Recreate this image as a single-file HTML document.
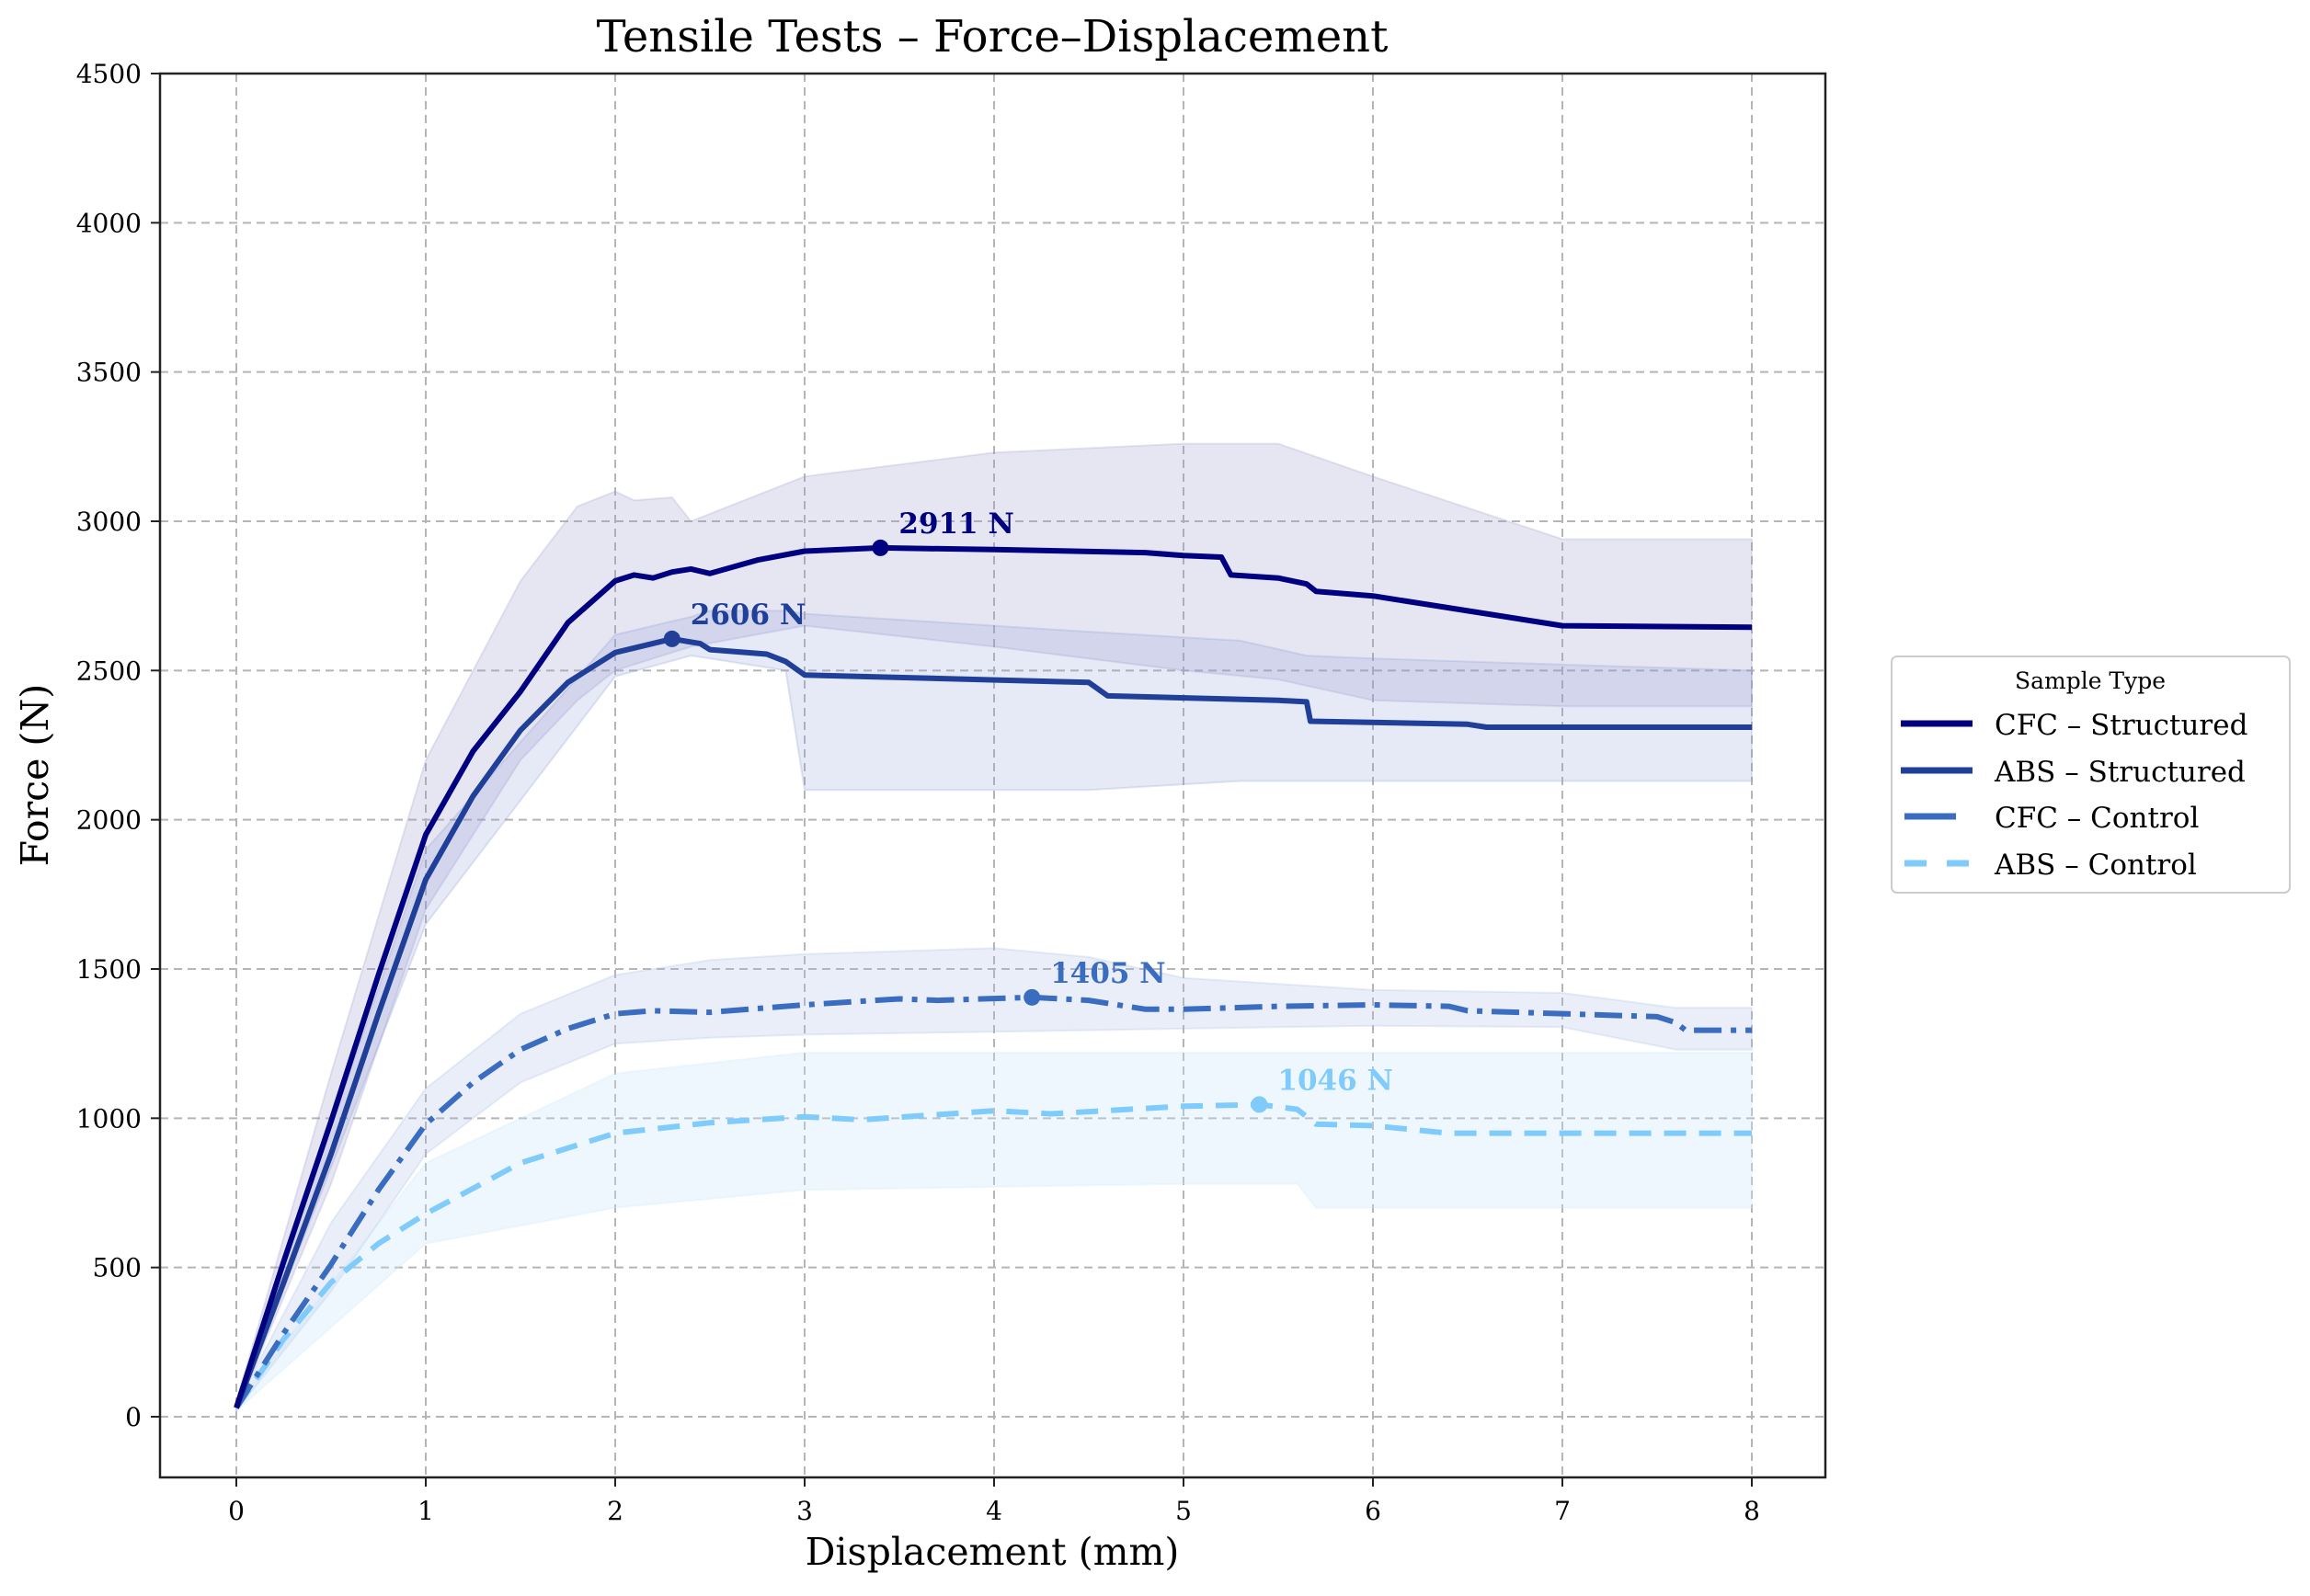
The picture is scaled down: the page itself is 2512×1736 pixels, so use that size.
<!DOCTYPE html>
<html><head><meta charset="utf-8"><style>
html,body{margin:0;padding:0;background:#fff;}
svg{display:block;font-family:"DejaVu Serif","Liberation Serif",serif;}
</style></head><body>
<svg id="chart" width="2512" height="1736" viewBox="0 0 2512 1736" xmlns="http://www.w3.org/2000/svg">
<text x="1079" y="56" text-anchor="middle" font-size="48">Tensile Tests – Force–Displacement</text>
<g id="grid"></g>
<g id="bands"></g>
<g id="lines"></g>
<g id="annots"></g>
<rect x="174" y="80" width="1811" height="1527" fill="none" stroke="#222" stroke-width="2.5"/>
<g id="axes"></g>
<text x="1079" y="1702" text-anchor="middle" font-size="41">Displacement (mm)</text>
<text transform="translate(52,843) rotate(-90)" text-anchor="middle" font-size="41">Force (N)</text>
<g>
<rect x="2057" y="714" width="433" height="257" rx="6" fill="#fff" stroke="#ccc" stroke-width="2"/>
<text x="2273" y="749" text-anchor="middle" font-size="25">Sample Type</text>
<g><line x1="2067" y1="787" x2="2145" y2="787" stroke="#000080" stroke-width="7"/><text x="2169" y="799" font-size="31">CFC – Structured</text></g>
<g><line x1="2067" y1="838" x2="2145" y2="838" stroke="#1f3f99" stroke-width="7"/><text x="2169" y="850" font-size="31">ABS – Structured</text></g>
<g><line x1="2071" y1="888" x2="2127" y2="888" stroke="#3a6cc0" stroke-width="7"/><text x="2169" y="900" font-size="31">CFC – Control</text></g>
<g><line x1="2071" y1="939" x2="2141" y2="939" stroke="#7fcbfb" stroke-width="7" stroke-dasharray="24,22"/><text x="2169" y="951" font-size="31">ABS – Control</text></g>
</g>
</svg>
<script>
const xTicks=[0,1,2,3,4,5,6,7,8];
const yTicks=[0,500,1000,1500,2000,2500,3000,3500,4000,4500];
const cfcS_x=[0,0.25,0.5,0.75,1,1.25,1.5,1.75,2,2.1,2.2,2.3,2.4,2.5,2.75,3,3.4,4,4.8,5,5.2,5.25,5.5,5.65,5.7,6,6.5,7,8];
const cfcS_y=[30,520,990,1480,1950,2230,2430,2660,2800,2820,2810,2830,2840,2825,2870,2900,2911,2905,2895,2885,2880,2820,2810,2790,2765,2750,2700,2650,2645];
const absS_x=[0,0.25,0.5,0.75,1,1.25,1.5,1.75,2,2.3,2.45,2.5,2.8,2.9,3,4.5,4.6,5.5,5.65,5.67,6.5,6.6,8];
const absS_y=[30,450,880,1350,1800,2080,2300,2460,2560,2606,2590,2570,2555,2530,2485,2460,2415,2400,2395,2330,2320,2310,2310];
const cfcC_x=[0,0.25,0.5,0.75,1,1.25,1.5,1.75,2,2.2,2.5,3,3.5,3.7,4.2,4.5,4.8,5,5.5,6,6.4,6.5,7.5,7.6,7.65,8];
const cfcC_y=[30,280,510,760,980,1120,1230,1300,1350,1360,1355,1380,1400,1395,1405,1395,1365,1365,1375,1380,1375,1360,1340,1320,1295,1295];
const absC_x=[0,0.25,0.5,0.75,1,1.5,2,2.5,3,3.3,4,4.3,5,5.4,5.6,5.7,6,6.4,8];
const absC_y=[30,260,450,580,680,850,950,985,1005,995,1025,1015,1040,1046,1030,980,975,950,950];
const cfcS_bx=[0,0.5,1,1.5,1.8,2,2.1,2.3,2.4,3,4,5,5.5,6,7,8];
const cfcS_hi=[50,1150,2200,2800,3050,3100,3070,3080,3000,3150,3230,3260,3260,3150,2940,2940];
const cfcS_lo=[20,780,1700,2200,2400,2500,2520,2560,2580,2650,2580,2500,2470,2400,2380,2380];
const absS_bx=[0,1,2,2.4,2.5,2.9,3,4.5,5.3,5.65,6,8];
const absS_hi=[40,1900,2620,2680,2700,2700,2690,2630,2600,2550,2540,2500];
const absS_lo=[20,1650,2480,2550,2540,2500,2100,2100,2130,2130,2130,2130];
const cfcC_bx=[0,0.5,1,1.5,2,2.5,3,4,4.5,5,6,7,7.6,8];
const cfcC_hi=[40,650,1100,1350,1480,1530,1550,1570,1540,1470,1430,1420,1370,1370];
const cfcC_lo=[20,420,880,1120,1250,1270,1280,1290,1295,1300,1310,1305,1230,1230];
const absC_bx=[0,1,2,3,4,5,5.6,5.7,8];
const absC_hi=[40,850,1150,1220,1220,1220,1220,1220,1220];
const absC_lo=[20,580,700,760,770,780,780,700,700];
const peakLabels=["2911 N","2606 N","1405 N","1046 N"];
const peakX=[3.4,2.3,4.2,5.4];
const peakY=[2911,2606,1405,1046];

const NS="http://www.w3.org/2000/svg";
function X(v){return 257+v*206;}
function Y(v){return 1541-v*0.32467;}
function mk(tag,attrs,parent){const e=document.createElementNS(NS,tag);for(const k in attrs)e.setAttribute(k,attrs[k]);parent.appendChild(e);return e;}
const grid=document.getElementById('grid'),axes=document.getElementById('axes');
xTicks.forEach(t=>{
  const g=mk('line',{x1:X(t),x2:X(t),y1:80,y2:1607,stroke:'#b5b5b5','stroke-width':2,'stroke-dasharray':'9,6'},grid);
  
  
  const tk=mk('line',{x1:X(t),x2:X(t),y1:1607,y2:1617,stroke:'#222','stroke-width':2},axes);
  
  
  const tl=mk('text',{x:X(t),y:1653,'text-anchor':'middle','font-size':28},axes);
  tl.textContent=t;
  
  
});
yTicks.forEach(t=>{
  const g=mk('line',{x1:174,x2:1985,y1:Y(t),y2:Y(t),stroke:'#b5b5b5','stroke-width':2,'stroke-dasharray':'9,6'},grid);
  
  
  const tk=mk('line',{x1:164,x2:174,y1:Y(t),y2:Y(t),stroke:'#222','stroke-width':2},axes);
  
  
  const tl=mk('text',{x:154,y:Y(t)+10,'text-anchor':'end','font-size':28},axes);
  tl.textContent=t;
  
  
});
function pts(xs,ys){return xs.map((v,i)=>X(v).toFixed(1)+','+Y(ys[i]).toFixed(1));}
const bands=document.getElementById('bands');
function band(xs,hi,lo,fill,op,name){
  const p=pts(xs,hi).concat(pts(xs,lo).reverse());
  const e=mk('polygon',{points:p.join(' '),fill:fill,'fill-opacity':op,stroke:fill,'stroke-opacity':0.25,'stroke-width':2},bands);
  
  
}
band(cfcS_bx,cfcS_hi,cfcS_lo,'#9d9dcf',0.25,'band-cfc-structured');
band(absS_bx,absS_hi,absS_lo,'#8c9bd4',0.22,'band-abs-structured');
band(cfcC_bx,cfcC_hi,cfcC_lo,'#a8bde6',0.25,'band-cfc-control');
band(absC_bx,absC_hi,absC_lo,'#c9e6fb',0.3,'band-abs-control');
const lines=document.getElementById('lines');
function line(xs,ys,col,dash,name){
  const a={points:pts(xs,ys).join(' '),fill:'none',stroke:col,'stroke-width':6,'stroke-linejoin':'round'};
  if(dash)a['stroke-dasharray']=dash;
  const e=mk('polyline',a,lines);
  
  
}
line(absC_x,absC_y,'#7fcbfb','24,14','line-abs-control');
line(cfcC_x,cfcC_y,'#3a6cc0','30,10,6,10','line-cfc-control');
line(absS_x,absS_y,'#1f3f99',null,'line-abs-structured');
line(cfcS_x,cfcS_y,'#000080',null,'line-cfc-structured');
const an=document.getElementById('annots');
const pcol=['#000080','#1f3f99','#3a6cc0','#7fcbfb'];
peakLabels.forEach((l,i)=>{
  const c=mk('circle',{cx:X(peakX[i]),cy:Y(peakY[i]),r:9,fill:pcol[i]},an);
  
  
  const t=mk('text',{x:X(peakX[i])+20,y:Y(peakY[i])-16,'font-size':31,'font-weight':'bold',fill:pcol[i]},an);
  t.textContent=l;
  
  
});
</script>
</body></html>
